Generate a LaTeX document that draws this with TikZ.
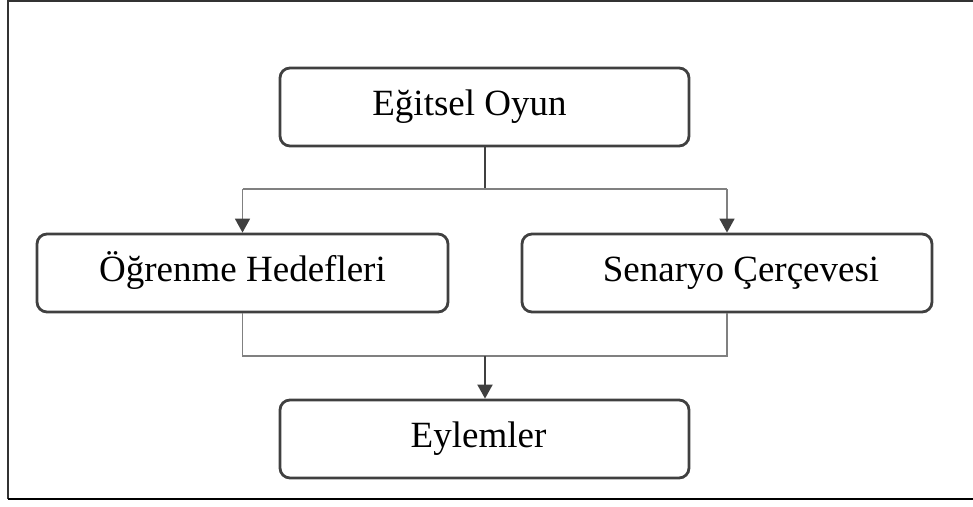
\documentclass[tikz,border=0pt]{standalone}
\usepackage{fontspec}
\setmainfont{Liberation Serif}
\usetikzlibrary{arrows.meta}
\definecolor{boxline}{HTML}{404040}
\definecolor{linkline}{HTML}{808080}
\begin{document}
\begin{tikzpicture}[x=1pt,y=-1pt,
  stepbox/.style={draw=boxline, line width=2.8pt, rounded corners=10pt,
    minimum height=78pt, inner sep=0pt, font=\fontsize{37}{42}\selectfont,
    text height=25pt, text depth=8pt},
  mainlink/.style={draw=boxline, line width=2pt},
  sidelink/.style={draw=linkline, line width=1.6pt},
  tip/.style={-{Triangle[width=15pt,length=14pt,color=boxline]}}
]
\useasboundingbox (0,0) rectangle (973,506);
% outer frame (open on the right)
\draw[line width=2pt, black!80] (8,499) -- (8,1) -- (973,1);
\draw[line width=2pt, black] (8,499) -- (973,499);

% boxes
\node[stepbox, minimum width=409pt] (oyun) at (484.5,107) {Eğitsel Oyun\hspace*{30pt}};
\node[stepbox, minimum width=411pt] (hedef) at (242.5,273) {Öğrenme Hedefleri};
\node[stepbox, minimum width=410pt] (senaryo) at (727,273) {\hspace*{28pt}Senaryo Çerçevesi};
\node[stepbox, minimum width=409pt] (eylem) at (484.5,439) {Eylemler\hspace*{12pt}};

% split from the top box
\coordinate (split) at (485,189);
\draw[mainlink] (oyun.south -| split) -- (split);
\draw[sidelink] (hedef.north |- split) -- (senaryo.north |- split);
\draw[sidelink, tip] (hedef.north |- split) -- (hedef.north);
\draw[sidelink, tip] (senaryo.north |- split) -- (senaryo.north);

% merge into the bottom box
\coordinate (merge) at (485,356);
\draw[sidelink] (hedef.south) -- (hedef.south |- merge) -- (senaryo.south |- merge) -- (senaryo.south);
\draw[mainlink, tip] (merge) -- (eylem.north -| merge);
\end{tikzpicture}
\end{document}
